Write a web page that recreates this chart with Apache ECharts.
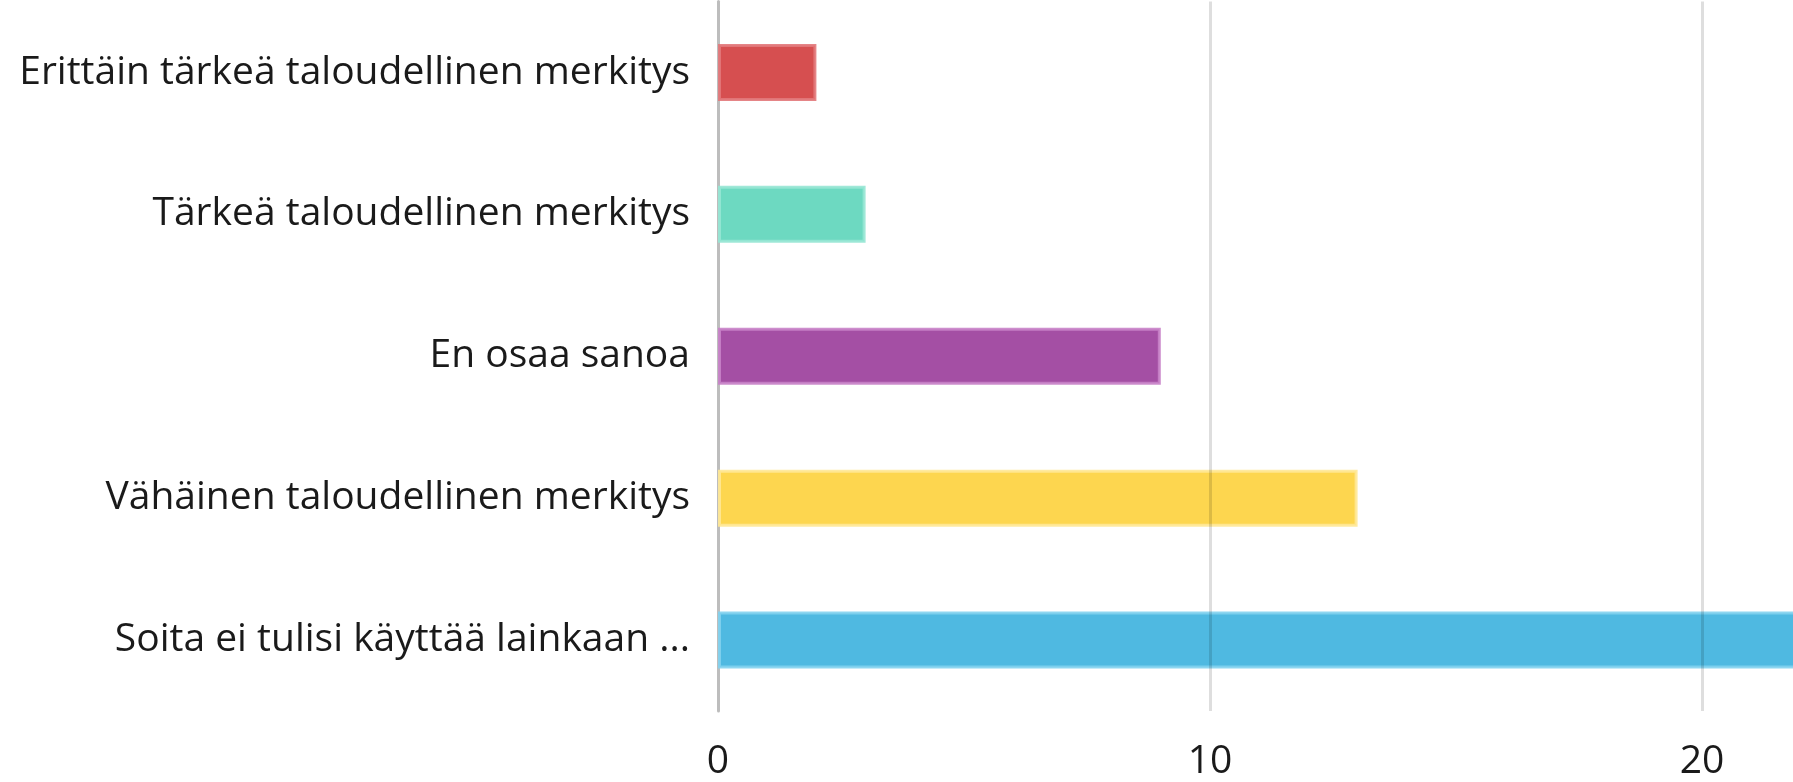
<!DOCTYPE html>
<html>
<head>
<meta charset="utf-8">
<script src="https://cdn.jsdelivr.net/npm/echarts@6/dist/echarts.min.js"></script>
<style>
  html, body { margin: 0; padding: 0; background: #fff; }
  #main { width: 1793px; height: 782px; }
</style>
</head>
<body>
<div id="main"></div>
<script>
// vastaukset ylhäältä alas
var categories = [
  'Erittäin tärkeä taloudellinen merkitys',
  'Tärkeä taloudellinen merkitys',
  'En osaa sanoa',
  'Vähäinen taloudellinen merkitys',
  'Soita ei tulisi käyttää lainkaan ...'
]
var values = [2, 3, 9, 13, 22]
var barColors = ['#d64f50', '#6dd9c1', '#a44fa4', '#fdd64f', '#4fb9e1']
var borderColors = ['rgba(226,120,122,0.9)', 'rgba(150,230,212,0.9)', 'rgba(200,130,200,0.9)', 'rgba(255,232,150,0.9)', 'rgba(130,210,238,0.9)']
var gridTicks = [10, 20]

var myChart = echarts.init(document.getElementById('main'))

var barData = []
for (var i = 0; i < values.length; i++) {
  barData.push({
    value: values[i],
    itemStyle: { color: barColors[i], borderColor: borderColors[i], borderWidth: 3 }
  })
}

// pystyviivat palkkien päälle
var lines = []
for (var j = 0; j < gridTicks.length; j++) {
  lines.push({ xAxis: gridTicks[j] })
}

var option = {
  animation: false,
  textStyle: { fontFamily: 'Open Sans' },
  grid: {
    left: 718,
    width: 1476,
    top: 1.5,
    bottom: 71,
    outerBoundsMode: 'none',
    containLabel: false
  },
  xAxis: {
    type: 'value',
    min: 0,
    max: 30,
    interval: 10,
    axisLine: { show: false },
    axisTick: { show: false },
    splitLine: { show: false },
    axisLabel: {
      fontSize: 39,
      color: '#1a1a1a',
      margin: 31
    }
  },
  yAxis: {
    type: 'category',
    inverse: true,
    data: categories,
    axisLine: { show: true, lineStyle: { color: '#bdbdbd', width: 3 } },
    axisTick: { show: false },
    axisLabel: {
      fontSize: 39,
      color: '#1a1a1a',
      margin: 28
    }
  },
  series: [
    {
      type: 'bar',
      barWidth: 57,
      data: barData,
      markLine: {
        silent: true,
        symbol: 'none',
        label: { show: false },
        lineStyle: { color: 'rgba(0,0,0,0.13)', width: 3, type: 'solid' },
        data: lines
      }
    }
  ]
}

option && myChart.setOption(option)
</script>
</body>
</html>
